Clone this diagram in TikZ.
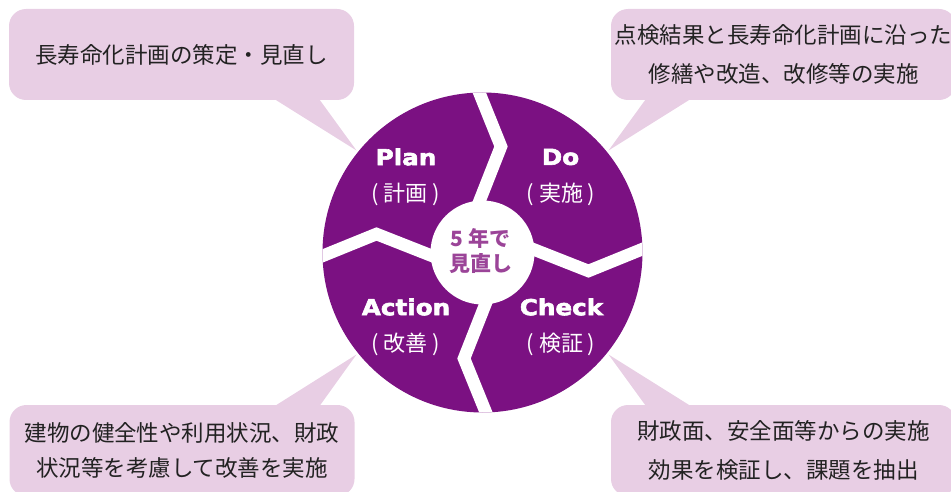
\documentclass[tikz,border=0pt]{standalone}
\usepackage{fontspec}
\setmainfont{Noto Sans CJK JP}
\newfontfamily\headfont[FakeStretch=1.12,FakeBold=2.6]{DejaVu Sans}
\definecolor{cyclepurple}{RGB}{123,17,130}
\definecolor{calloutpink}{RGB}{232,206,228}
\definecolor{centerpurple}{RGB}{155,68,152}
\definecolor{callouttext}{RGB}{34,34,34}

\begin{document}
\begin{tikzpicture}[x=1pt,y=-1pt]
\tikzset{
  callout/.style={fill=calloutpink,rounded corners=17pt,minimum width=345pt,minimum height=91pt,inner sep=0pt,align=center,text=callouttext,font=\fontsize{22.5}{39}\selectfont},
  tail/.style={fill=calloutpink},
  phase/.style={text=white,inner sep=0pt,font=\headfont\bfseries\fontsize{22}{26}\selectfont},
  phasesub/.style={text=white,inner sep=0pt,font=\fontsize{22}{26}\selectfont},
  gap/.style={draw=white,line width=12.5pt,line join=miter}
}
\useasboundingbox (0,0) rectangle (951,492);
\clip (0,0) rectangle (951,492);
% callouts
\node[callout] (n_call_plan) at (181.5,54.5) {長寿命化計画の策定・見直し};
\node[callout] (n_call_do) at (783.5,54.5) {点検結果と長寿命化計画に沿った\\修繕や改造、改修等の実施};
\node[callout,font=\fontsize{22.5}{35}\selectfont] (n_call_action) at (182,450.5) {建物の健全性や利用状況、財政\\状況等を考慮して改善を実施};
\node[callout] (n_call_check) at (783.5,450.5) {財政面、安全面等からの実施\\効果を検証し、課題を抽出};
\coordinate (tip_plan) at (356.5,150.5);
\coordinate (tip_do) at (608.5,150.5);
\coordinate (tip_action) at (356.5,354.5);
\coordinate (tip_check) at (608.5,354.5);
\fill[tail] ([xshift=91.5pt,yshift=2pt]n_call_plan.south) -- ([xshift=137pt,yshift=2pt]n_call_plan.south) -- (tip_plan) -- cycle;
\fill[tail] ([xshift=-137pt,yshift=2pt]n_call_do.south) -- ([xshift=-91.5pt,yshift=2pt]n_call_do.south) -- (tip_do) -- cycle;
\fill[tail] ([xshift=91.5pt,yshift=-2pt]n_call_action.north) -- ([xshift=137pt,yshift=-2pt]n_call_action.north) -- (tip_action) -- cycle;
\fill[tail] ([xshift=-137pt,yshift=-2pt]n_call_check.north) -- ([xshift=-91.5pt,yshift=-2pt]n_call_check.north) -- (tip_check) -- cycle;
% cycle
\coordinate (c) at (482.5,252.5);
\fill[cyclepurple] (c) circle[radius=160pt];
\begin{scope}
  \clip (c) circle[radius=160pt];
  \draw[gap] (475,82) -- (501,146.5) -- (475,212.5);
  \draw[gap] (652.5,245) -- (588.5,271) -- (522.5,245);
  \draw[gap] (490,422.5) -- (464,358.5) -- (490,292.5);
  \draw[gap] (312.5,260) -- (376.5,234) -- (442.5,260);
\end{scope}
\fill[white] (c) circle[radius=52pt];
\node[text=centerpurple,inner sep=0pt,align=center,font=\bfseries\fontsize{21}{25}\selectfont] (n_center) at (480.5,251) {5 年で\\見直し};
\node[phase] (n_plan) at (406,157) {Plan};
\node[phasesub] (n_plan_sub) at (405.5,194) {( 計画 )};
\node[phase] (n_do) at (560.5,157) {Do};
\node[phasesub] (n_do_sub) at (561,194) {( 実施 )};
\node[phase] (n_action) at (406,307) {Action};
\node[phasesub] (n_action_sub) at (405.5,344) {( 改善 )};
\node[phase] (n_check) at (561.5,307) {Check};
\node[phasesub] (n_check_sub) at (561,344) {( 検証 )};
\end{tikzpicture}
\end{document}
